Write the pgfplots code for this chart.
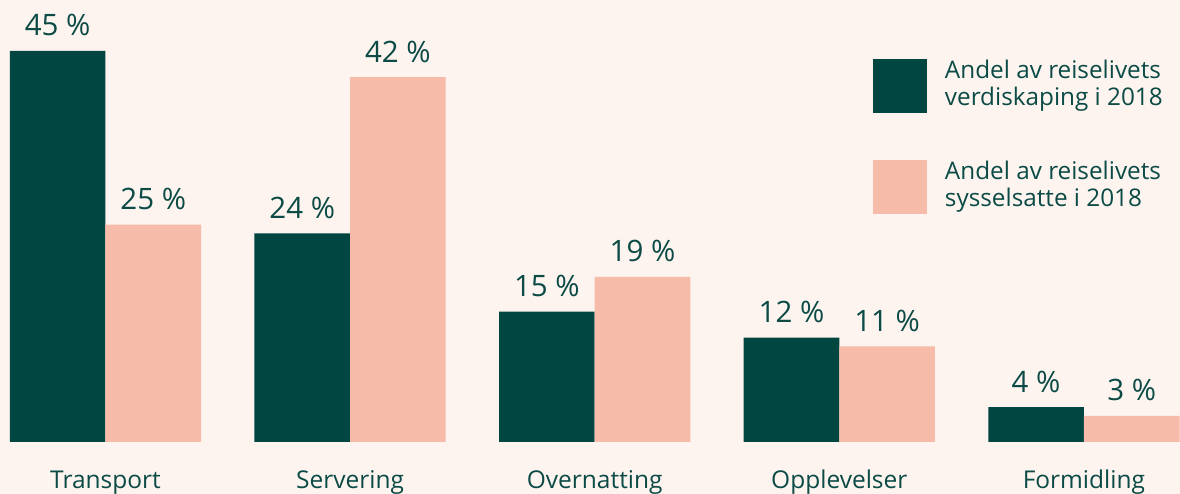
\documentclass[border=0pt]{standalone}
\usepackage{pgfplots}
\pgfplotsset{compat=1.18}
\usepackage{fontspec}
\setmainfont{Open Sans}
\definecolor{bg}{HTML}{FDF4EF}
\definecolor{dark}{HTML}{024642}
\definecolor{salmon}{HTML}{F7BBA9}
\definecolor{txt}{HTML}{0B4A45}
\begin{document}
\begin{tikzpicture}
\fill[bg] (0,0) rectangle (1180pt,494pt);
\begin{axis}[
  at={(0pt,52pt)}, anchor=south west,
  scale only axis, width=1180pt, height=434.5pt,
  xmin=-0.4313, xmax=4.3929, ymin=0, ymax=50,
  ybar=0pt, bar width=95.6pt,
  clip=false,
  axis line style={draw=none},
  xtick={0,1,2,3,4},
  xticklabels={Transport,Servering,Overnatting,Opplevelser,Formidling},
  major tick length=0pt, ytick=\empty,
  xticklabel style={anchor=base, yshift=-46.5pt, inner sep=0pt, font=\fontsize{24.5}{28}\selectfont, text=txt},
  /pgf/number format/assume math mode=true,
  nodes near coords={\pgfmathprintnumber{\pgfplotspointmeta} \%},
  every node near coord/.append style={anchor=base, yshift=15pt, inner sep=0pt, font=\fontsize{29.5}{33}\selectfont, text=txt},
  legend cell align=left,
  legend style={at={(0.7398,0.8817)}, anchor=north west, draw=none, fill=none,
    inner sep=0pt, outer sep=0pt, row sep=47pt,
    nodes={inner sep=0pt, align=left, text=txt, font=\fontsize{24.3}{27}\selectfont},
    /tikz/every odd column/.append style={column sep=18pt}},
  legend image code/.code={\fill[#1] (0pt,-29pt) rectangle (54pt,25pt);},
]
\addplot[fill=dark, draw=none] coordinates {(0,45) (1,24) (2,15) (3,12) (4,4)};
\addplot[fill=salmon, draw=none] coordinates {(0,25) (1,42) (2,19) (3,11) (4,3)};
\legend{Andel av reiselivets\\verdiskaping i 2018, Andel av reiselivets\\sysselsatte i 2018}
\end{axis}
\pgfresetboundingbox
\useasboundingbox (0,0) rectangle (1180pt,494pt);
\end{tikzpicture}
\end{document}
